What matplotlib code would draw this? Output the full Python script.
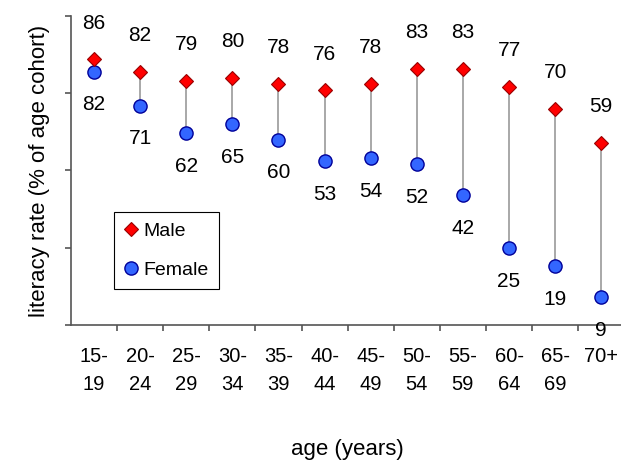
import numpy as np
import matplotlib
matplotlib.use('Agg')
from matplotlib import pyplot as plt

ages = ['15-\n19', '20-\n24', '25-\n29', '30-\n34', '35-\n39', '40-\n44',
        '45-\n49', '50-\n54', '55-\n59', '60-\n64', '65-\n69', '70+']
male = [86, 82, 79, 80, 78, 76, 78, 83, 83, 77, 70, 59]
female = [82, 71, 62, 65, 60, 53, 54, 52, 42, 25, 19, 9]

plt.rcParams['font.family'] = ['Liberation Sans', 'DejaVu Sans']

fig = plt.figure(figsize=(6.21, 4.66), dpi=100)
ax = fig.add_axes([0.1143, 0.3026, 0.891, 0.6631])

x = np.arange(len(ages))

# gray connecting lines behind the markers
ax.vlines(x, female, male, color='#999999', lw=1.2, zorder=1)

ax.plot(x, male, 'D', ms=7, mfc='#FF0000', mec='#990000', mew=0.8,
        ls='none', label='Male', zorder=3)
ax.plot(x, female, 'o', ms=9.5, mfc='#3366FF', mec='#000099', mew=1.0,
        ls='none', label='Female', zorder=2)

for i in range(len(ages)):
    ax.annotate(str(male[i]), (x[i], male[i]), xytext=(0, 26),
                textcoords='offset points', ha='center', va='center',
                fontsize=15, annotation_clip=False)
    ax.annotate(str(female[i]), (x[i], female[i]), xytext=(0, -24),
                textcoords='offset points', ha='center', va='center',
                fontsize=15, annotation_clip=False)

ax.set_xlim(-0.5, len(ages) - 0.5)
ax.set_ylim(0, 100)

ax.set_yticks([0, 25, 50, 75, 100])
ax.set_yticklabels([])
ax.set_xticks(x)
ax.set_xticklabels(ages, fontsize=14.5, linespacing=1.6)
ax.set_xticks(np.arange(0.5, len(ages) - 0.5, 1), minor=True)
ax.tick_params(axis='x', which='major', length=0, pad=16)
ax.tick_params(axis='x', which='minor', length=4.5, width=1.2, color='#555555')
ax.tick_params(axis='y', length=4, width=1.2, color='#555555')

for s in ['top', 'right']:
    ax.spines[s].set_visible(False)
for s in ['left', 'bottom']:
    ax.spines[s].set_color('#555555')
    ax.spines[s].set_linewidth(1.2)

ax.set_ylabel('literacy rate (% of age cohort)', fontsize=16)
ax.yaxis.set_label_coords(-0.038, 0.5)
ax.set_xlabel('age (years)', fontsize=16, va='top')
ax.xaxis.set_label_coords(0.5, -0.369)

leg = ax.legend(loc='upper left', bbox_to_anchor=(0.0777, 0.3657),
                borderaxespad=0, fontsize=14, frameon=True, fancybox=False,
                edgecolor='black', handlelength=0.6, handletextpad=0.35,
                labelspacing=1.07, borderpad=0.55, framealpha=1)
leg.get_frame().set_linewidth(0.8)

fig.savefig('out.png', dpi=100)
